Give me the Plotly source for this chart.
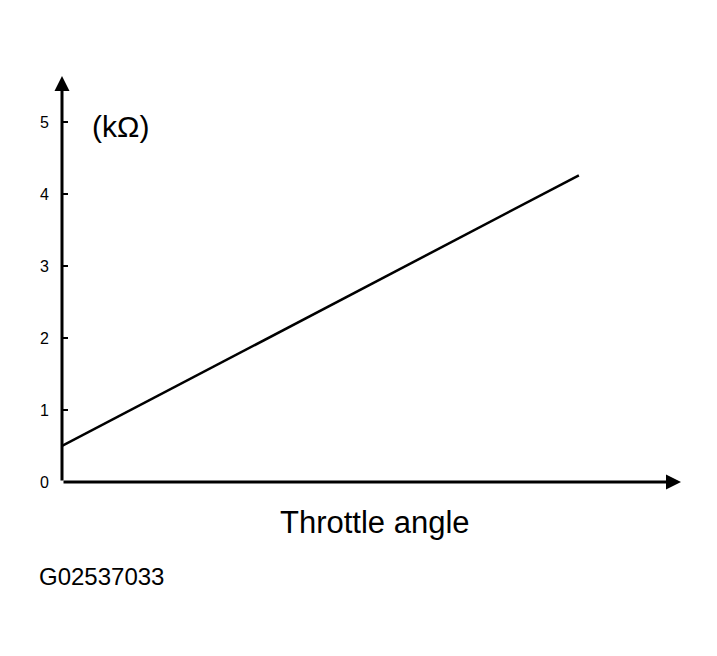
import plotly.graph_objects as go

# Data
throttle_angle = [0, 83.5]
resistance_kohm = [0.5, 4.26]
y_ticks = [0, 1, 2, 3, 4, 5]
y_tick_labels = ["0", "1", "2", "3", "4", "5"]

X_MAX = 100
Y_MAX = 5.64

font = "Liberation Sans, Arial, sans-serif"

# page offset of the figure inside the browser (body margin)
OFF = 7
plot_l, plot_r, plot_t, plot_b = 61 - OFF, 680 - OFF, 75 - OFF, 481 - OFF
W, H = 717, 656

def px_to_paper(px, py):
    px -= OFF
    py -= OFF
    return (px - plot_l) / (plot_r - plot_l), (plot_b - py) / (plot_b - plot_t)

fig = go.Figure()
fig.add_trace(go.Scatter(
    x=throttle_angle, y=resistance_kohm, mode="lines",
    line=dict(color="black", width=2.5), showlegend=False, hoverinfo="skip"))

# axis arrows
fig.add_annotation(x=X_MAX, y=0, ax=0, ay=0, xref="x", yref="y", axref="x", ayref="y",
                   showarrow=True, arrowhead=2, arrowsize=1.0, arrowwidth=3, arrowcolor="black", text="")
fig.add_annotation(x=0, y=Y_MAX, ax=0, ay=0, xref="x", yref="y", axref="x", ayref="y",
                   showarrow=True, arrowhead=2, arrowsize=1.0, arrowwidth=3, arrowcolor="black", text="")

fig.add_annotation(x=4.5, y=4.94, xref="x", yref="y", text="(kΩ)", showarrow=False,
                   xanchor="left", yanchor="middle", font=dict(family=font, size=30, color="black"))
tx, ty = px_to_paper(374, 521)
fig.add_annotation(x=tx, y=ty, xref="paper", yref="paper",
                   text="Throttle angle", showarrow=False, xanchor="center", yanchor="middle",
                   font=dict(family=font, size=31, color="black"))
gx, gy = px_to_paper(36, 575)
fig.add_annotation(x=gx, y=gy, xref="paper", yref="paper", text="G02537033", showarrow=False,
                   xanchor="left", yanchor="middle", font=dict(family=font, size=24, color="black"))

fig.update_layout(
    width=W, height=H,
    margin=dict(l=plot_l, r=W - plot_r, t=plot_t, b=H - plot_b, pad=0),
    paper_bgcolor="white", plot_bgcolor="white",
    xaxis=dict(range=[0, X_MAX], showgrid=False, zeroline=False, showticklabels=False,
               showline=False, ticks=""),
    yaxis=dict(range=[0, Y_MAX], showgrid=False, zeroline=False, showline=False,
               tickvals=y_ticks, ticktext=y_tick_labels, ticks="inside", ticklen=6,
               tickwidth=2, tickcolor="black", ticklabelstandoff=12,
               tickfont=dict(family=font, size=16, color="black")),
)

fig.write_html("out.html")
